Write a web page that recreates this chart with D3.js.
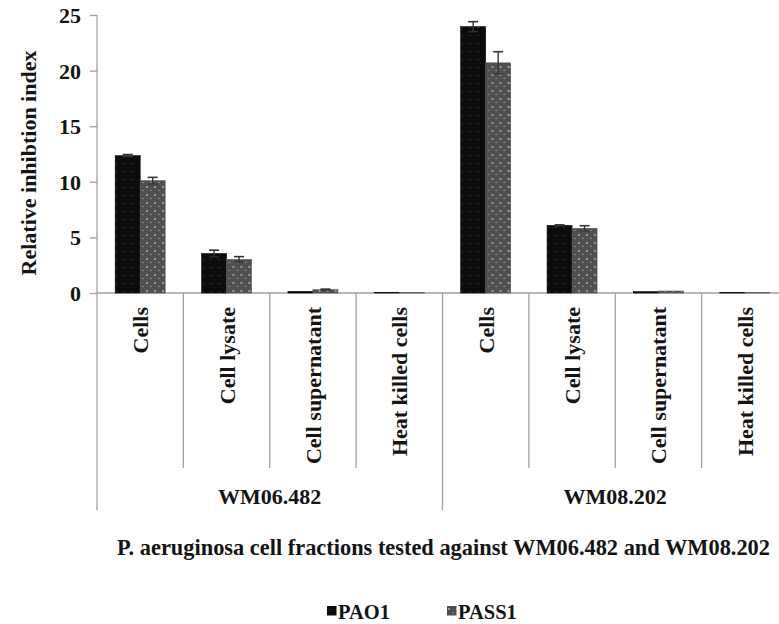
<!DOCTYPE html>
<html>
<head>
<meta charset="utf-8">
<script src="https://cdn.jsdelivr.net/npm/d3@7"></script>
<style>
  html, body { margin: 0; padding: 0; background: #fff; }
  svg { display: block; }
  svg text { font-family: 'Liberation Serif', Tinos, 'Times New Roman', 'DejaVu Serif', serif !important; font-weight: bold; fill: #141414; }
</style>
</head>
<body>
<svg id="chart" width="779" height="624"></svg>
<script>
// ---- data ----
const strains = ["WM06.482", "WM08.202"];
const fractions = ["Cells", "Cell lysate", "Cell supernatant", "Heat killed cells"];
const seriesNames = ["PAO1", "PASS1"];
const pao1Values = [12.35, 3.55, 0.15, 0.03, 23.95, 6.08, 0.12, 0.03];
const pao1Errors = [0.1, 0.3, 0.03, 0.01, 0.45, 0.05, 0.02, 0.01];
const pass1Values = [10.1, 3.03, 0.3, 0.03, 20.7, 5.82, 0.18, 0.03];
const pass1Errors = [0.3, 0.24, 0.05, 0.01, 1.0, 0.23, 0.03, 0.01];
const yTicks = [0, 5, 10, 15, 20, 25];
const yTitle = "Relative inhibtion index";
const xTitle = "P. aeruginosa cell fractions tested against WM06.482 and WM08.202";

// ---- build table ----
const rows = [];
strains.forEach((s, si) => fractions.forEach((f, fi) => {
  const i = si * fractions.length + fi;
  rows.push({ strain: s, fraction: f, key: s + "|" + f,
    values: [
      { series: "PAO1", v: pao1Values[i], e: pao1Errors[i] },
      { series: "PASS1", v: pass1Values[i], e: pass1Errors[i] }
    ] });
}));

const FONT = "'Liberation Serif', Tinos, 'Times New Roman', 'DejaVu Serif', serif";
const svg = d3.select("#chart");
const axisColor = "#ab9c9c";

// patterns
const defs = svg.append("defs");
const p1 = defs.append("pattern").attr("id", "patPAO1").attr("patternUnits", "userSpaceOnUse")
  .attr("width", 8).attr("height", 8);
p1.append("rect").attr("width", 8).attr("height", 8).attr("fill", "#0b0b0b");
p1.append("rect").attr("x", 2).attr("y", 3).attr("width", 3).attr("height", 1).attr("fill", "#262626");
const p2 = defs.append("pattern").attr("id", "patPASS1").attr("patternUnits", "userSpaceOnUse")
  .attr("width", 8).attr("height", 8);
p2.append("rect").attr("width", 8).attr("height", 8).attr("fill", "#4f4f4f");
p2.append("rect").attr("x", 1).attr("y", 2).attr("width", 2).attr("height", 2).attr("fill", "#9a9a9a");
p2.append("rect").attr("x", 5).attr("y", 6).attr("width", 2).attr("height", 1).attr("fill", "#8a8a8a");
const fillOf = { PAO1: "url(#patPAO1)", PASS1: "url(#patPASS1)" };
const strokeOf = { PAO1: "#050505", PASS1: "#5a5a5a" };

// scales
const x0 = 97, x1 = 788;
const xCat = d3.scaleBand().domain(rows.map(r => r.key)).range([x0, x1]).padding(0);
const xSer = d3.scaleBand().domain(seriesNames).range([0, xCat.bandwidth()]).paddingInner(0).paddingOuter(0.728);
const y = d3.scaleLinear().domain([0, 25]).range([293, 15]);

// y axis
const yAxis = d3.axisLeft(y).tickValues(yTicks).tickSize(7).tickPadding(9).tickFormat(d3.format("d"));
const gy = svg.append("g").attr("transform", `translate(${x0},0)`).call(yAxis)
  .attr("font-family", FONT);
gy.select(".domain").remove();
gy.selectAll(".tick line").attr("stroke", axisColor).attr("stroke-width", 1.3);
gy.selectAll(".tick text").style("font-size", "22px").attr("fill", "#141414").attr("dy", "0.34em");

// y axis vertical line (extends down to group separator bottom)
svg.append("line").attr("x1", x0).attr("x2", x0).attr("y1", y(25)).attr("y2", 510)
  .attr("stroke", axisColor).attr("stroke-width", 1.3);

// x axis baseline
svg.append("line").attr("x1", x0).attr("x2", x1).attr("y1", y(0)).attr("y2", y(0))
  .attr("stroke", axisColor).attr("stroke-width", 1.3);

// dividers
rows.forEach((r, i) => {
  if (i === 0) return;
  const xx = xCat(r.key);
  const isGroup = i % fractions.length === 0;
  svg.append("line").attr("x1", xx).attr("x2", xx).attr("y1", y(0)).attr("y2", isGroup ? 510 : 468)
    .attr("stroke", axisColor).attr("stroke-width", 1.3);
});

// bars
const cat = svg.append("g").selectAll("g").data(rows).join("g")
  .attr("transform", d => `translate(${xCat(d.key)},0)`);
cat.selectAll("rect").data(d => d.values).join("rect")
  .attr("x", d => xSer(d.series))
  .attr("width", xSer.bandwidth())
  .attr("y", d => y(d.v))
  .attr("height", d => y(0) - y(d.v))
  .attr("fill", d => fillOf[d.series])
  .attr("stroke", d => strokeOf[d.series]).attr("stroke-width", 0.6);

// error bars
const eb = cat.selectAll("g.err").data(d => d.values.filter(v => v.e > 0.04)).join("g").attr("class", "err");
const errColor = "#3a3232";
const cx = d => xSer(d.series) + xSer.bandwidth() / 2;
eb.append("line").attr("x1", cx).attr("x2", cx)
  .attr("y1", d => y(d.v + d.e)).attr("y2", d => y(d.v - d.e))
  .attr("stroke", errColor).attr("stroke-width", 1.4);
eb.append("line").attr("x1", d => cx(d) - 5).attr("x2", d => cx(d) + 5)
  .attr("y1", d => y(d.v + d.e)).attr("y2", d => y(d.v + d.e))
  .attr("stroke", errColor).attr("stroke-width", 1.6);
eb.append("line").attr("x1", d => cx(d) - 5).attr("x2", d => cx(d) + 5)
  .attr("y1", d => y(d.v - d.e)).attr("y2", d => y(d.v - d.e))
  .attr("stroke", errColor).attr("stroke-width", 1.2);

// category labels (rotated)
svg.append("g").attr("font-family", FONT).selectAll("text").data(rows).join("text")
  .attr("transform", d => `translate(${xCat(d.key) + xCat.bandwidth() / 2 + 8},307) rotate(-90)`)
  .attr("text-anchor", "end")
  .style("font-size", "22px")
  .text(d => d.fraction);

// group labels
strains.forEach((s) => {
  const first = xCat(s + "|" + fractions[0]);
  const last = xCat(s + "|" + fractions[fractions.length - 1]) + xCat.bandwidth();
  svg.append("text").attr("x", (first + last) / 2).attr("y", 504).attr("font-family", FONT)
    .attr("text-anchor", "middle").style("font-size", "22px").text(s);
});

// y title
svg.append("text").attr("transform", "translate(36,163) rotate(-90)").attr("font-family", FONT)
  .attr("text-anchor", "middle").style("font-size", "22px").text(yTitle);

// x title
svg.append("text").attr("x", 117).attr("y", 555).attr("font-family", FONT)
  .attr("textLength", 653).attr("lengthAdjust", "spacingAndGlyphs")
  .style("font-size", "22.3px").text(xTitle);

// legend
const legendX = [327, 447];
const leg = svg.append("g").attr("font-family", FONT).selectAll("g").data(seriesNames).join("g")
  .attr("transform", (d, i) => `translate(${legendX[i]},606)`);
leg.append("rect").attr("width", 9.5).attr("height", 9.5).attr("fill", d => fillOf[d]);
leg.append("text").attr("x", 11).attr("y", 13.3).style("font-size", "20.5px").text(d => d);
</script>
</body>
</html>
